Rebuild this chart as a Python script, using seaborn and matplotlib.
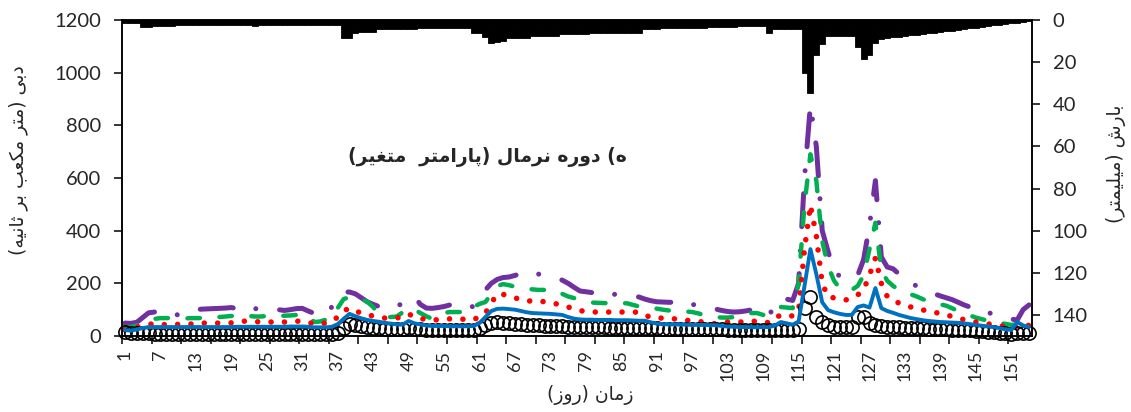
import numpy as np
import matplotlib
matplotlib.use("Agg")
import matplotlib.pyplot as plt
import seaborn as sns

# ---------------------------------------------------------------- data
days = list(range(1, 155))

rain_mm = [
    1.6, 1.6, 1.6, 3.5, 3.5, 2.8, 2.8, 2.7, 2.7, 2.6,
    2.6, 2.6, 2.5, 2.5, 2.5, 2.4, 2.4, 2.4, 2.4, 2.3,
    2.3, 2.6, 2.7, 2.4, 2.2, 2.4, 2.4, 2.4, 2.4, 2.4,
    2.4, 2.4, 2.4, 2.4, 2.4, 2.4, 2.4, 8.7, 8.7, 6.3,
    5.5, 5.5, 5.5, 4.3, 4.3, 4.2, 4.2, 4.2, 4.1, 4.1,
    4.0, 4.0, 4.0, 3.9, 3.9, 3.9, 3.8, 3.8, 3.8, 6.3,
    6.3, 8.0, 10.8, 10.5, 10.0, 8.5, 8.5, 8.5, 8.5, 7.6,
    7.6, 7.6, 7.6, 7.6, 6.5, 6.5, 6.5, 6.5, 6.5, 6.0,
    6.0, 6.0, 6.0, 6.0, 6.0, 6.0, 6.0, 6.0, 4.3, 4.2,
    4.1, 4.0, 3.9, 3.9, 3.8, 3.7, 3.7, 3.6, 3.6, 3.5,
    3.4, 3.3, 3.2, 3.1, 3.0, 3.0, 2.9, 2.8, 2.8, 6.0,
    4.5, 4.5, 4.4, 4.3, 4.2, 25.0, 34.6, 16.4, 11.5, 7.6,
    7.6, 7.6, 7.6, 7.6, 13.0, 18.6, 16.4, 10.9, 9.0, 8.6,
    8.3, 8.0, 7.6, 7.3, 7.0, 6.6, 6.3, 6.0, 5.6, 5.3,
    5.0, 4.6, 4.3, 4.0, 3.6, 3.3, 3.0, 2.6, 2.3, 2.0,
    1.6, 1.3, 1.0, 0.7,
]

q_observed = [
    14, 11, 10, 10, 10, 9, 9, 9, 9, 9,
    9, 9, 9, 9, 9, 9, 9, 9, 9, 9,
    9, 9, 9, 9, 9, 9, 9, 9, 9, 9,
    9, 9, 9, 9, 9, 9, 12, 32, 45, 42,
    38, 34, 31, 29, 27, 26, 25, 25, 29, 27,
    25, 24, 24, 23, 23, 22, 22, 22, 22, 23,
    30, 40, 48, 52, 50, 48, 46, 44, 42, 41,
    40, 39, 38, 38, 37, 36, 35, 35, 34, 34,
    33, 33, 32, 32, 31, 31, 30, 30, 30, 29,
    29, 28, 28, 28, 27, 27, 26, 26, 26, 25,
    25, 25, 24, 24, 24, 23, 23, 23, 22, 22,
    23, 24, 23, 22, 25, 106, 148, 72, 53, 40,
    36, 34, 33, 36, 72, 72, 50, 42, 38, 36,
    34, 33, 32, 31, 30, 29, 28, 27, 26, 25,
    24, 23, 22, 21, 20, 18, 16, 14, 12, 10,
    9, 10, 11, 12,
]

q_run1 = [
    23, 20, 25, 30, 34, 34, 34, 34, 34, 34,
    34, 34, 34, 34, 34, 34, 34, 34, 34, 35,
    35, 35, 35, 35, 35, 35, 35, 35, 36, 36,
    36, 35, 33, 33, 33, 35, 45, 65, 84, 75,
    67, 61, 57, 54, 50, 47, 44, 43, 57, 48,
    44, 40, 38, 38, 38, 37, 37, 37, 37, 38,
    49, 72, 95, 103, 104, 102, 100, 95, 90, 87,
    86, 85, 84, 82, 80, 72, 66, 63, 62, 62,
    61, 61, 61, 60, 60, 60, 59, 58, 58, 52,
    47, 45, 44, 44, 43, 43, 42, 42, 42, 41,
    41, 38, 36, 35, 34, 34, 34, 33, 34, 34,
    40, 53, 48, 43, 55, 190, 330, 235, 128, 98,
    90, 84, 80, 80, 110, 116, 108, 182, 106, 95,
    88, 80, 74, 68, 64, 60, 57, 55, 53, 52,
    51, 50, 48, 45, 42, 39, 36, 34, 30, 25,
    23, 53, 40, 34,
]

q_run2 = [
    23, 28, 33, 40, 46, 44, 42, 44, 46, 44,
    42, 45, 48, 49, 49, 49, 49, 49, 50, 53,
    56, 57, 55, 53, 53, 53, 53, 53, 54, 56,
    57, 52, 46, 47, 49, 55, 72, 95, 106, 95,
    87, 80, 76, 72, 68, 68, 68, 75, 84, 72,
    65, 65, 60, 62, 65, 65, 65, 64, 63, 61,
    75, 87, 125, 160, 158, 152, 145, 138, 133, 133,
    133, 130, 125, 122, 118, 110, 103, 97, 92, 91,
    91, 91, 91, 91, 91, 91, 91, 90, 80, 70,
    68, 68, 67, 65, 62, 60, 57, 55, 53, 50,
    46, 50, 53, 53, 53, 54, 55, 57, 55, 50,
    68, 80, 78, 76, 95, 330, 497, 380, 200, 148,
    145, 140, 137, 145, 156, 175, 232, 296, 200, 150,
    135, 125, 118, 110, 103, 99, 95, 90, 85, 80,
    74, 68, 62, 56, 53, 50, 46, 43, 40, 35,
    30, 35, 42, 40,
]

q_run3 = [
    34, 34, 40, 50, 58, 65, 68, 68, 68, 68,
    66, 68, 68, 68, 69, 70, 72, 74, 76, 76,
    76, 76, 74, 74, 76, 76, 76, 77, 78, 80,
    80, 76, 53, 55, 62, 68, 106, 140, 148, 146,
    140, 130, 110, 80, 72, 72, 74, 90, 106, 100,
    87, 75, 65, 75, 88, 91, 91, 91, 91, 110,
    122, 129, 160, 190, 197, 193, 187, 183, 180, 177,
    175, 175, 175, 174, 160, 150, 144, 138, 130, 127,
    126, 125, 125, 125, 125, 124, 118, 112, 108, 106,
    104, 100, 97, 95, 94, 93, 91, 86, 80, 76,
    72, 70, 70, 72, 80, 86, 87, 87, 80, 85,
    100, 110, 108, 106, 200, 500, 690, 590, 360, 265,
    210, 180, 175, 175, 190, 230, 330, 430, 250, 210,
    190, 175, 165, 158, 150, 140, 132, 125, 120, 115,
    105, 95, 86, 78, 70, 64, 58, 54, 50, 46,
    42, 44, 58, 72,
]

q_run4 = [
    49, 48, 52, 70, 88, 91, 92, 88, 84, 80,
    82, 90, 100, 102, 103, 104, 105, 106, 108, 104,
    100, 106, 104, 102, 106, 105, 100, 97, 100, 104,
    105, 95, 86, 84, 84, 110, 140, 167, 167, 160,
    145, 130, 120, 112, 110, 110, 112, 125, 145, 148,
    120, 106, 105, 108, 112, 118, 115, 112, 110, 112,
    145, 175, 200, 215, 222, 224, 230, 238, 240, 238,
    235, 232, 228, 222, 212, 200, 185, 171, 168, 165,
    163, 162, 160, 158, 156, 154, 152, 148, 140, 134,
    130, 129, 128, 128, 126, 124, 120, 116, 112, 106,
    102, 97, 93, 91, 92, 95, 99, 96, 92, 82,
    110, 144, 140, 135, 200, 600, 877, 720, 400, 320,
    250, 225, 218, 216, 230, 290, 420, 590, 300, 262,
    255, 235, 215, 200, 190, 178, 167, 160, 152, 145,
    138, 128, 118, 110, 104, 99, 90, 82, 72, 68,
    64, 61, 100, 118,
]

flow_ticks = [0, 200, 400, 600, 800, 1000, 1200]
rain_ticks = [0, 20, 40, 60, 80, 100, 120, 140]
day_labels = list(range(1, 152, 6))

label_flow = "دبی (متر مکعب بر ثانیه)"
label_rain = "بارش (میلیمتر)"
label_time = "زمان (روز)"
label_panel = "ه) دوره نرمال (پارامتر  متغیر)"

# ------------------------------------------- minimal Persian shaping
FORMS = {
    "ا": ("\uFE8D", "\uFE8E", None, None),
    "ب": ("\uFE8F", "\uFE90", "\uFE91", "\uFE92"),
    "پ": ("\uFB56", "\uFB57", "\uFB58", "\uFB59"),
    "ت": ("\uFE95", "\uFE96", "\uFE97", "\uFE98"),
    "ث": ("\uFE99", "\uFE9A", "\uFE9B", "\uFE9C"),
    "د": ("\uFEA9", "\uFEAA", None, None),
    "ر": ("\uFEAD", "\uFEAE", None, None),
    "ز": ("\uFEAF", "\uFEB0", None, None),
    "ش": ("\uFEB5", "\uFEB6", "\uFEB7", "\uFEB8"),
    "ع": ("\uFEC9", "\uFECA", "\uFECB", "\uFECC"),
    "غ": ("\uFECD", "\uFECE", "\uFECF", "\uFED0"),
    "ک": ("\uFB8E", "\uFB8F", "\uFB90", "\uFB91"),
    "ل": ("\uFEDD", "\uFEDE", "\uFEDF", "\uFEE0"),
    "م": ("\uFEE1", "\uFEE2", "\uFEE3", "\uFEE4"),
    "ن": ("\uFEE5", "\uFEE6", "\uFEE7", "\uFEE8"),
    "ه": ("\uFEE9", "\uFEEA", "\uFEEB", "\uFEEC"),
    "و": ("\uFEED", "\uFEEE", None, None),
    "ی": ("\uFBFC", "\uFBFD", "\uFBFE", "\uFBFF"),
}
MIRROR = {"(": ")", ")": "("}


def shape(text):
    out = []
    for i, ch in enumerate(text):
        f = FORMS.get(ch)
        if f is None:
            out.append(ch)
            continue
        prev = text[i - 1] if i > 0 else ""
        nxt = text[i + 1] if i + 1 < len(text) else ""
        jp = prev in FORMS and FORMS[prev][2] is not None
        jn = f[2] is not None and nxt in FORMS
        out.append(f[3] if (jp and jn) else f[1] if jp else f[2] if jn else f[0])
    return out


def rtl(text):
    """Right-to-left line in visual order."""
    return "".join(MIRROR.get(g, g) for g in reversed(shape(text)))


# ---------------------------------------------------------------- figure
sns.set_theme(style="white")
plt.rcParams["font.family"] = ["Lato", "DejaVu Sans"]
plt.rcParams["axes.linewidth"] = 1.1

W, H = 1131, 412
fig = plt.figure(figsize=(W / 100, H / 100), dpi=100)
ax = fig.add_axes([122 / W, 76 / H, 910 / W, 316 / H])
ax2 = ax.twinx()

# rainfall hanging from the top on the secondary axis
sns.barplot(x=days, y=rain_mm, ax=ax2, native_scale=True, width=1.0,
            color="black", saturation=1, errorbar=None,
            edgecolor="black", linewidth=0.6)

# simulated flows
sns.lineplot(x=days, y=q_run4, ax=ax, color="#7030A0", linewidth=3.6,
             linestyle=(0, (6.6, 4.6, 0.01, 4.8)), dash_capstyle="round",
             zorder=3)
sns.lineplot(x=days, y=q_run3, ax=ax, color="#00B050", linewidth=3.2,
             linestyle=(0, (2.8, 4.4)), dash_capstyle="round", zorder=4)
sns.lineplot(x=days, y=q_run2, ax=ax, color="#FF0000", linewidth=4.0,
             linestyle=(0, (0.01, 2.4)), dash_capstyle="round", zorder=5)
# observed flow
sns.lineplot(x=days, y=q_observed, ax=ax, linestyle="", marker="o",
             markersize=9.5, markerfacecolor="none", markeredgecolor="black",
             markeredgewidth=1.2, clip_on=False, zorder=6)
sns.lineplot(x=days, y=q_run1, ax=ax, color="#0070C0", linewidth=2.8,
             zorder=7)

# ---------------------------------------------------------------- axes
ax.set_xlim(0.5, len(days) + 0.5)
ax.set_ylim(0, 1200)
ax2.set_ylim(150, 0)

ax.set_yticks(flow_ticks)
ax.set_yticklabels([str(v) for v in flow_ticks])
ax2.set_yticks(rain_ticks)
ax2.set_yticklabels([str(v) for v in rain_ticks])

ax.set_xticks(day_labels)
ax.set_xticklabels([str(d) for d in day_labels], rotation=90)
ax.set_xticks(np.arange(0.5, len(days) + 1, 5), minor=True)

ax.tick_params(axis="x", which="major", length=0, pad=10, labelsize=13)
ax.tick_params(axis="x", which="minor", length=6, width=1.1,
               direction="out", color="black", bottom=True)
ax.tick_params(axis="y", length=6, width=1.1, direction="out",
               color="black", pad=9, labelsize=14.5, left=True)
ax2.tick_params(axis="y", length=6, width=1.1, direction="out",
                color="black", pad=9, labelsize=14.5, right=True)

for a in (ax, ax2):
    a.set_xlabel("")
    a.set_ylabel("")
    a.grid(False)
    for s in a.spines.values():
        s.set_color("black")
        s.set_linewidth(1.1)
ax2.set_xlim(0.5, len(days) + 0.5)

# ---------------------------------------------------------------- labels
fa = ["DejaVu Sans"]
fig.text(18 / W, 1 - 160 / H, rtl(label_flow), rotation=90, ha="center",
         va="center", fontsize=13.5, family=fa)
fig.text(1116 / W, 1 - 164 / H, rtl(label_rain), rotation=90, ha="center",
         va="center", fontsize=13.5, family=fa)
fig.text(590 / W, 1 - 395 / H, rtl(label_time), ha="center", va="center",
         fontsize=13.5, family=fa)
fig.text(487 / W, 1 - 157 / H, rtl(label_panel), ha="center", va="center",
         fontsize=13.5, fontweight="bold", family=fa)

fig.savefig("out.png", dpi=100)
